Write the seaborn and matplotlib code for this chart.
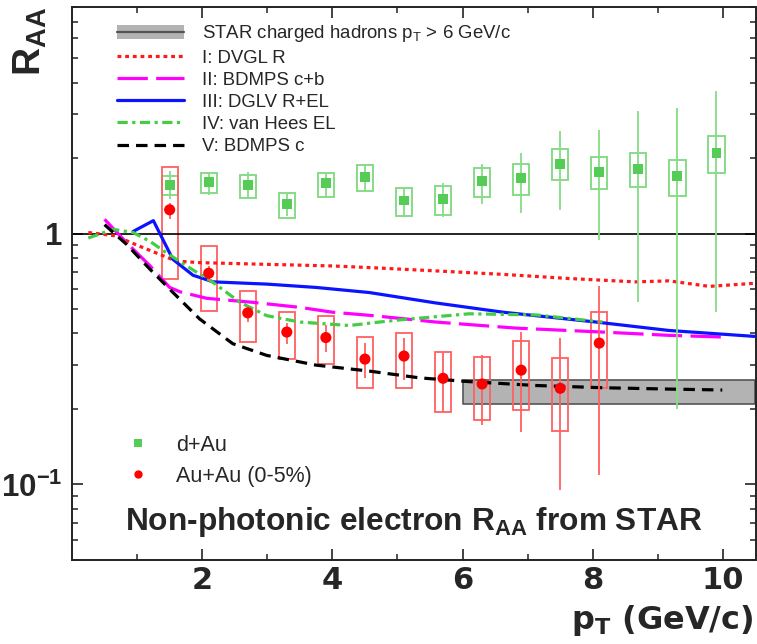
import numpy as np
import pandas as pd
import seaborn as sns
import matplotlib
matplotlib.use("Agg")
import matplotlib.pyplot as plt
from matplotlib.lines import Line2D
from matplotlib.patches import Patch
from matplotlib.legend_handler import HandlerTuple
from matplotlib.ticker import FixedLocator, FixedFormatter, NullFormatter

# ---------------- data ----------------
# d+Au
dau_pt = [1.5, 2.1, 2.7, 3.3, 3.9, 4.5, 5.1, 5.7, 6.3, 6.9, 7.5, 8.1, 8.7, 9.3, 9.9]
dau_raa = [1.56, 1.60, 1.56, 1.31, 1.59, 1.685, 1.354, 1.375, 1.62, 1.66, 1.90, 1.763, 1.81, 1.69, 2.10]
dau_stat_lo = [1.37, 1.43, 1.39, 1.17, 1.41, 1.47, 1.18, 1.16, 1.31, 1.21, 1.24, 0.94, 0.535, 0.20, 0.486]
dau_stat_hi = [1.78, 1.76, 1.76, 1.45, 1.76, 1.875, 1.53, 1.59, 1.90, 2.10, 2.56, 2.58, 3.09, 3.17, 3.69]
dau_sys_lo = [1.43, 1.45, 1.38, 1.154, 1.40, 1.48, 1.18, 1.19, 1.40, 1.42, 1.635, 1.50, 1.53, 1.41, 1.75]
dau_sys_hi = [1.69, 1.74, 1.71, 1.45, 1.75, 1.875, 1.515, 1.55, 1.83, 1.89, 2.18, 2.02, 2.10, 1.96, 2.44]

# Au+Au (0-5%)
auau_pt = [1.5, 2.1, 2.7, 3.3, 3.9, 4.5, 5.1, 5.7, 6.3, 6.9, 7.5, 8.1]
auau_raa = [1.244, 0.695, 0.483, 0.405, 0.385, 0.316, 0.325, 0.265, 0.2515, 0.2855, 0.2417, 0.366]
auau_stat_lo = [1.14, 0.648, 0.443, 0.364, 0.336, 0.265, 0.261, 0.195, 0.172, 0.162, 0.095, 0.109]
auau_stat_hi = [1.32, 0.743, 0.516, 0.441, 0.433, 0.367, 0.384, 0.335, 0.327, 0.405, 0.384, 0.62]
auau_sys_lo = [0.662, 0.493, 0.370, 0.315, 0.303, 0.243, 0.242, 0.194, 0.180, 0.198, 0.164, 0.242]
auau_sys_hi = [1.835, 0.891, 0.592, 0.489, 0.469, 0.387, 0.403, 0.336, 0.323, 0.372, 0.320, 0.486]

# STAR charged hadrons, pT > 6 GeV/c
hadron_pt = [6.0, 10.5]
hadron_lo = [0.21, 0.21]
hadron_hi = [0.262, 0.262]

# model curves
dvgl_pt = [0.25, 0.66, 1.04, 1.35, 1.6, 1.96, 2.99, 4.0, 4.57, 5.59, 6.61, 7.64, 8.66, 9.17, 9.79, 10.5]
dvgl_raa = [1.01, 0.98, 0.89, 0.826, 0.777, 0.766, 0.754, 0.743, 0.732, 0.71, 0.688, 0.662, 0.642, 0.648, 0.616, 0.634]

bdmps_cb_pt = [0.5, 0.84, 1.2, 1.5, 1.66, 2.07, 2.78, 3.5, 4.0, 4.62, 5.59, 6.82, 8.15, 9.17, 9.99]
bdmps_cb_raa = [1.14, 0.919, 0.743, 0.61, 0.586, 0.552, 0.532, 0.508, 0.486, 0.471, 0.444, 0.42, 0.405, 0.393, 0.387]

dglv_pt = [0.94, 1.25, 1.55, 1.86, 2.17, 2.99, 3.75, 4.57, 5.59, 6.62, 8.05, 9.17, 10.5]
dglv_raa = [1.02, 1.126, 0.789, 0.682, 0.642, 0.629, 0.61, 0.582, 0.529, 0.486, 0.444, 0.411, 0.389]

vanhees_pt = [0.25, 0.63, 0.94, 1.2, 1.45, 1.76, 2.17, 2.58, 2.99, 3.5, 4.26, 4.72, 5.08, 6.1, 7.13, 8.15]
vanhees_raa = [0.96, 1.04, 1.01, 0.93, 0.839, 0.743, 0.638, 0.532, 0.471, 0.444, 0.430, 0.444, 0.454, 0.479, 0.474, 0.444]

bdmps_c_pt = [0.5, 0.84, 1.2, 1.55, 1.96, 2.47, 2.99, 3.75, 4.57, 5.34, 6.1, 7.13, 8.15, 9.17, 9.99]
bdmps_c_raa = [1.085, 0.905, 0.72, 0.583, 0.457, 0.364, 0.327, 0.299, 0.283, 0.266, 0.257, 0.248, 0.243, 0.24, 0.238]

model_labels = ["I: DVGL R", "II: BDMPS c+b", "III: DGLV R+EL", "IV: van Hees EL", "V: BDMPS c"]
x_ticks = [2, 4, 6, 8, 10]
x_ticklabels = ["2", "4", "6", "8", "10"]
y_ticks = [0.1, 1]
y_ticklabels = [r"$\mathbf{10^{-1}}$", r"$\mathbf{1}$"]

# ---------------- style ----------------
sns.set_style("ticks")
plt.rcParams["font.family"] = ["Liberation Sans", "DejaVu Sans"]
plt.rcParams["mathtext.fontset"] = "custom"
plt.rcParams["mathtext.rm"] = "Liberation Sans"
plt.rcParams["mathtext.bf"] = "Liberation Sans:bold"
plt.rcParams["mathtext.it"] = "Liberation Sans:italic"

W, H = 757, 644
fig = plt.figure(figsize=(W / 100, H / 100), dpi=100)
ax = fig.add_axes([72 / W, (H - 560) / H, (755.5 - 72) / W, (560 - 7) / H])

GREEN = "#55cc55"
GREEN_LIGHT = "#86dc86"
RED = "#ff0000"
RED_LIGHT = "#ff6060"
BAND = "#b3b3b3"
BAND_EDGE = "#555555"

# hadron band
ax.fill_between(hadron_pt, hadron_lo, hadron_hi, facecolor=BAND,
                edgecolor=BAND_EDGE, linewidth=1.2, zorder=1)

# systematic boxes
ax.bar(dau_pt, np.subtract(dau_sys_hi, dau_sys_lo), bottom=dau_sys_lo, width=0.25,
       fill=False, edgecolor=GREEN_LIGHT, linewidth=1.4, zorder=2)
ax.bar(auau_pt, np.subtract(auau_sys_hi, auau_sys_lo), bottom=auau_sys_lo, width=0.25,
       fill=False, edgecolor=RED_LIGHT, linewidth=1.3, zorder=2)

# reference line at unity
ax.axhline(1.0, color="black", linewidth=1.2, zorder=2)

# model curves
LW = 2.3
curves = [
    (dvgl_pt, dvgl_raa, "#ff1a1a", (0, (1.2, 1.2))),
    (bdmps_cb_pt, bdmps_cb_raa, "#ff00ff", (0, (9.5, 2.6))),
    (dglv_pt, dglv_raa, "#0a14ff", "-"),
    (vanhees_pt, vanhees_raa, "#44cc44", (0, (3.2, 1.4, 1.0, 1.4))),
    (bdmps_c_pt, bdmps_c_raa, "#000000", (0, (3.6, 2.2))),
]
model_handles = []
for (xs, ys, col, ls), lab in zip(curves, model_labels):
    df = pd.DataFrame({"pt": xs, "raa": ys})
    sns.lineplot(data=df, x="pt", y="raa", ax=ax, color=col, linewidth=LW,
                 errorbar=None, zorder=3)
    line = ax.lines[-1]
    line.set_linestyle(ls)
    line.set_dash_capstyle("butt")
    model_handles.append(Line2D([], [], color=col, linewidth=LW, linestyle=ls,
                                dash_capstyle="butt", label=lab))

# statistical errors
ax.vlines(dau_pt, dau_stat_lo, dau_stat_hi, color=GREEN_LIGHT, linewidth=1.3, zorder=4)
ax.vlines(auau_pt, auau_stat_lo, auau_stat_hi, color=RED_LIGHT, linewidth=1.3, zorder=4)

# data points
sns.scatterplot(x=dau_pt, y=dau_raa, ax=ax, marker="s", s=50, color=GREEN,
                edgecolor="none", linewidth=0, zorder=5, legend=False)
sns.scatterplot(x=auau_pt, y=auau_raa, ax=ax, marker="o", s=64, color=RED,
                edgecolor="none", linewidth=0, zorder=5, legend=False)

# ---------------- axes ----------------
ax.set_yscale("log")
ax.set_xlim(0, 10.5)
ax.set_ylim(0.05, 8)
ax.set_xlabel("")
ax.set_ylabel("")

ax.xaxis.set_major_locator(FixedLocator(x_ticks))
ax.xaxis.set_minor_locator(FixedLocator([1, 3, 5, 7, 9]))
ax.set_xticklabels(x_ticklabels, fontweight="bold", fontsize=22, family="DejaVu Sans")

ax.yaxis.set_major_locator(FixedLocator(y_ticks))
ax.yaxis.set_major_formatter(FixedFormatter(y_ticklabels))
minor_y = [m * d for d in (0.01, 0.1, 1) for m in range(2, 10)]
ax.yaxis.set_minor_locator(FixedLocator(minor_y))
ax.yaxis.set_minor_formatter(NullFormatter())
for lab in ax.get_yticklabels():
    lab.set_fontsize(22.5)

ax.tick_params(which="both", direction="in", top=True, right=True, color="#222222")
ax.tick_params(which="major", length=8, width=1.2)
ax.tick_params(which="minor", length=4.5, width=1.1)
ax.tick_params(axis="x", which="major", pad=4)
ax.tick_params(axis="y", which="major", pad=7)
for sp in ax.spines.values():
    sp.set_linewidth(1.4)
    sp.set_color("#222222")

# ---------------- legends ----------------
band_handle = (Patch(facecolor=BAND, edgecolor="none"),
               Line2D([], [], color=BAND_EDGE, linewidth=1.6))
leg1 = ax.legend([band_handle] + model_handles,
                 [r"STAR charged hadrons p$_{\mathrm{T}}$ > 6 GeV/c"] + model_labels,
                 handler_map={tuple: HandlerTuple(ndivide=1, pad=0)},
                 loc="upper left", bbox_to_anchor=((117 - 72) / 685, 1 - (23.5 - 7) / 553),
                 frameon=False, fontsize=13.4, handlelength=3.6, handleheight=0.75,
                 handletextpad=0.95, labelspacing=0.26, borderpad=0, borderaxespad=0)
ax.add_artist(leg1)

pt_handles = [
    Line2D([], [], marker="s", linestyle="none", markersize=5.5, color=GREEN, markeredgewidth=0),
    Line2D([], [], marker="o", linestyle="none", markersize=6, color=RED, markeredgewidth=0),
]
ax.legend(pt_handles, ["d+Au", "Au+Au (0-5%)"], loc="upper left",
          bbox_to_anchor=((127 - 72) / 685, 1 - (435 - 7) / 553),
          frameon=False, fontsize=15.5, handlelength=1.0, handletextpad=1.3,
          labelspacing=0.45, borderpad=0, borderaxespad=0)

# ---------------- text ----------------
ax.text(0.5, (560 - 522) / 553, r"Non-photonic electron R$_{\mathbf{AA}}$ from STAR",
        transform=ax.transAxes, ha="center", va="center", fontsize=22.8, fontweight="bold")
fig.text(30 / W, 1 - 41 / H, r"R$_{\mathbf{AA}}$", rotation=90, ha="center", va="center",
         fontsize=28, fontweight="bold")
fig.text(753 / W, 1 - 620 / H, r"p$_{\mathbf{T}}$ (GeV/c)", ha="right", va="center",
         fontsize=23, fontweight="bold", family="DejaVu Sans", math_fontfamily="dejavusans")

fig.savefig("out.png", dpi=100)
